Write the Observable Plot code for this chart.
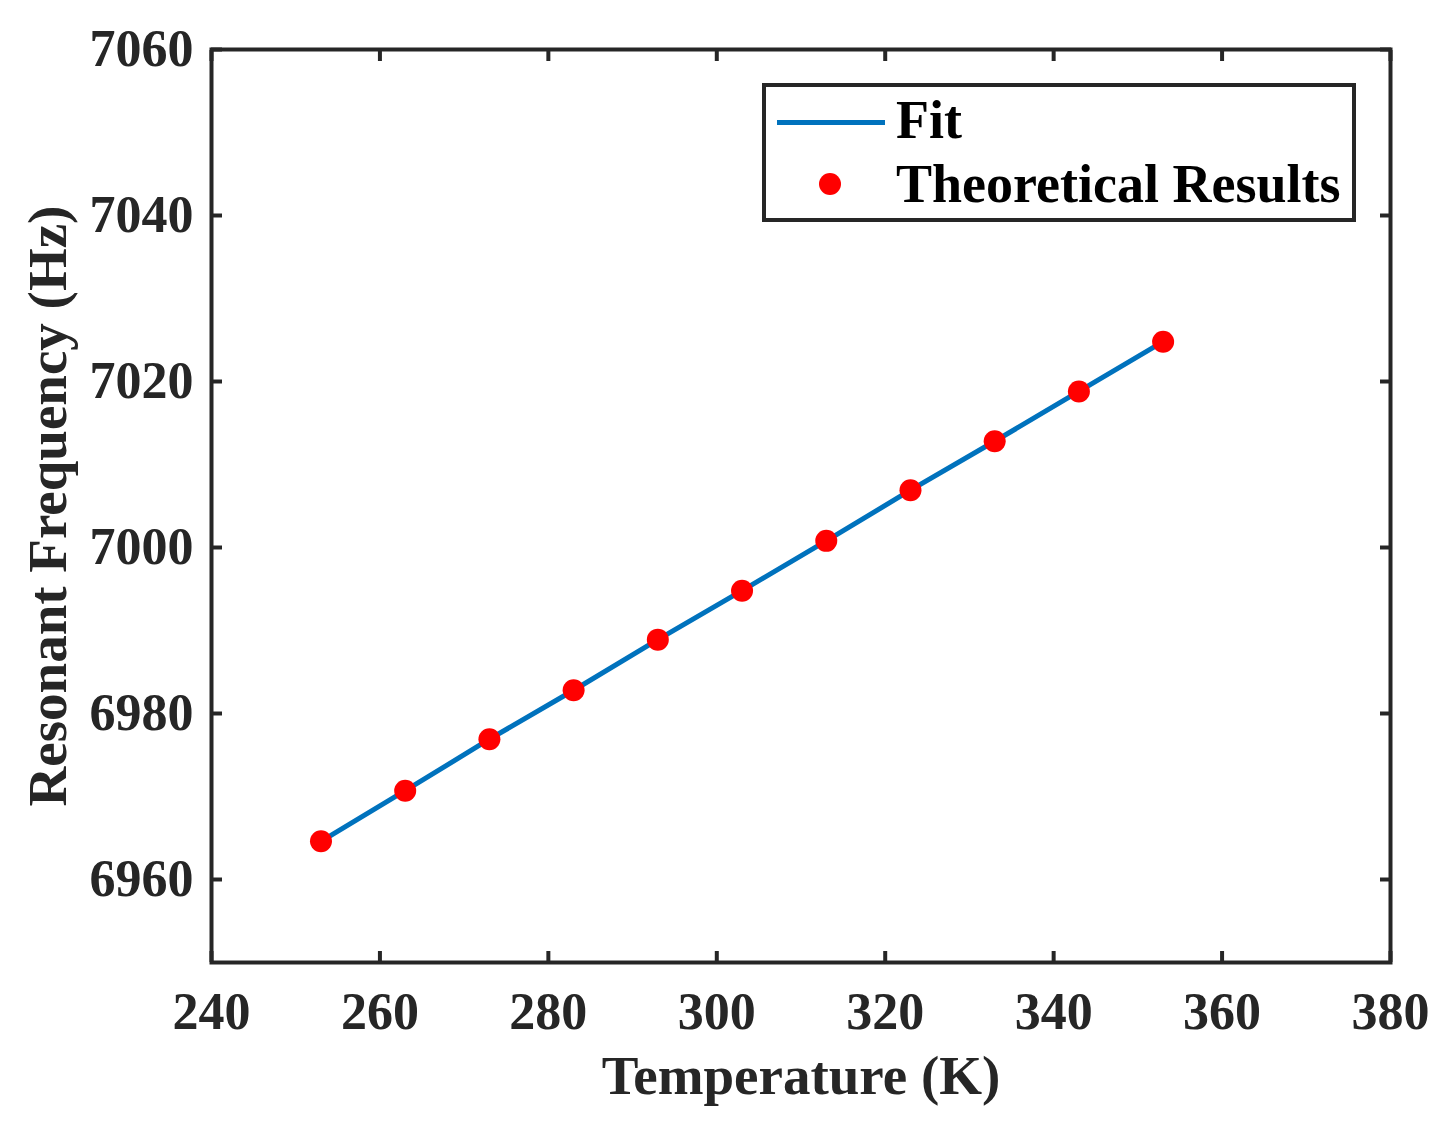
<!DOCTYPE html>
<html><head><meta charset="utf-8">
<script src="https://cdn.jsdelivr.net/npm/d3@7"></script>
<script src="https://cdn.jsdelivr.net/npm/@observablehq/plot@0.6"></script>
<style>
body{margin:0;background:#fff;}
#wrap{position:relative;width:1456px;height:1128px;overflow:hidden;}
.lg{position:absolute;font-family:"Liberation Serif","Times New Roman",serif;font-weight:bold;font-size:54px;line-height:54px;color:#000;white-space:nowrap;}
</style></head><body>
<div id="wrap"></div>
<script>
const temperature = [253, 263, 273, 283, 293, 303, 313, 323, 333, 343, 353];
const frequency = [6964.6, 6970.7, 6976.9, 6982.8, 6988.9, 6994.8, 7000.8, 7006.9, 7012.8, 7018.8, 7024.8];
const xTicks = [240, 260, 280, 300, 320, 340, 360, 380];
const yTicks = [6960, 6980, 7000, 7020, 7040, 7060];
const seriesNames = ["Fit", "Theoretical Results"];

const data = temperature.map((t, i) => ({t, f: frequency[i]}));
const axisColor = "#262626";
const fmt = d => String(d);

const chart = Plot.plot({
  width: 1456,
  height: 1128,
  marginLeft: 211,
  marginRight: 66,
  marginTop: 49,
  marginBottom: 166,
  style: {fontFamily: '"Liberation Serif","Times New Roman",serif', fontWeight: "bold", fontSize: "52px", color: axisColor, background: "#fff"},
  x: {domain: [240, 380]},
  y: {domain: [6950, 7060]},
  marks: [
    Plot.frame({stroke: axisColor, strokeWidth: 4}),
    // inward ticks on all sides
    Plot.axisX(xTicks, {anchor: "bottom", tickSize: 11, dy: -11, text: null, strokeWidth: 4, stroke: axisColor, label: null}),
    Plot.axisX(xTicks, {anchor: "top", tickSize: 11, dy: 11, text: null, strokeWidth: 4, stroke: axisColor, label: null}),
    Plot.axisY(yTicks, {anchor: "left", tickSize: 11, dx: 11, text: null, strokeWidth: 4, stroke: axisColor, label: null}),
    Plot.axisY(yTicks, {anchor: "right", tickSize: 11, dx: -11, text: null, strokeWidth: 4, stroke: axisColor, label: null}),
    // tick labels
    Plot.axisX(xTicks, {anchor: "bottom", tickSize: 0, tickPadding: 30, fill: axisColor, fontSize: 52, tickFormat: fmt, label: null}),
    Plot.axisY(yTicks, {anchor: "left", tickSize: 0, tickPadding: 18, fill: axisColor, fontSize: 52, tickFormat: fmt, label: null}),
    // axis titles
    Plot.axisX([], {anchor: "bottom", tickSize: 0, text: null, fill: axisColor, fontSize: 55,
      label: "Temperature (K)", labelAnchor: "center", labelArrow: "none", labelOffset: 131}),
    Plot.axisY([], {anchor: "left", tickSize: 0, text: null, fill: axisColor, fontSize: 55,
      label: "Resonant Frequency (Hz)", labelAnchor: "center", labelArrow: "none", labelOffset: 185}),
    Plot.line(data, {x: "t", y: "f", stroke: "#0072BD", strokeWidth: 5}),
    Plot.dot(data, {x: "t", y: "f", r: 11, fill: "#FF0000", stroke: "none"})
  ]
});
const wrap = document.getElementById("wrap");
wrap.appendChild(chart);

// legend
const box = document.createElement("div");
box.style.cssText = "position:absolute;left:762px;top:83px;width:594px;height:139px;box-sizing:border-box;border:4px solid #262626;background:#fff;";
wrap.appendChild(box);
const lineSample = document.createElement("div");
lineSample.style.cssText = "position:absolute;left:777px;top:120px;width:108px;height:4.5px;background:#0072BD;";
wrap.appendChild(lineSample);
const dotSample = document.createElement("div");
dotSample.style.cssText = "position:absolute;left:819px;top:173px;width:22px;height:22px;border-radius:50%;background:#FF0000;";
wrap.appendChild(dotSample);
seriesNames.forEach((name, i) => {
  const s = document.createElement("div");
  s.className = "lg";
  s.textContent = name;
  s.style.left = "896px";
  s.style.top = (93 + i * 64) + "px";
  wrap.appendChild(s);
});
</script>
</body></html>
